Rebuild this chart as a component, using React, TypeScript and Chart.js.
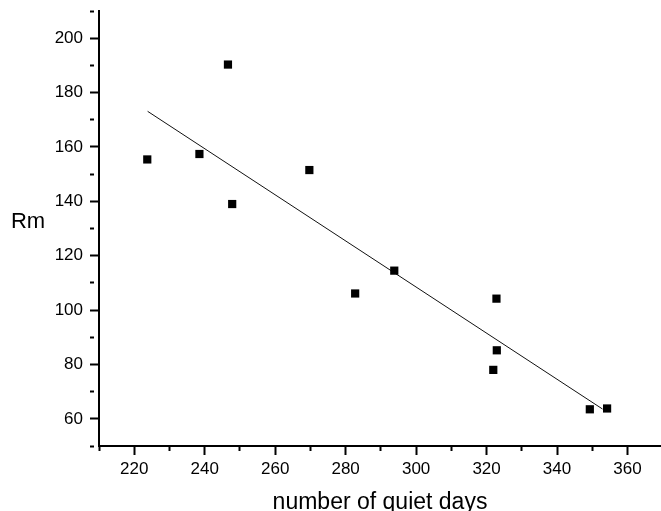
import React, { useEffect, useRef } from "react";
import { Chart, registerables } from "chart.js";

Chart.register(...registerables);

// Data
const quietDays = [223.7, 238.5, 246.6, 247.8, 269.7, 282.7, 293.8, 321.9, 322.8, 322.9, 349.3, 354.2];
const rmValues = [155.4, 157.4, 190.3, 139.0, 151.5, 106.1, 114.5, 78.0, 104.2, 85.2, 63.5, 63.8];
const fitDays = [223.8, 352.9];
const fitRm = [173.1, 63.6];

const xTickValues = [210, 220, 230, 240, 250, 260, 270, 280, 290, 300, 310, 320, 330, 340, 350, 360];
const yTickValues = [50, 60, 70, 80, 90, 100, 110, 120, 130, 140, 150, 160, 170, 180, 190, 200, 210];

const xTitle = "number of quiet days";
const yTitle = "Rm";

const FONT = "'Liberation Sans', Arial, sans-serif";

export default function App() {
  const ref = useRef<HTMLCanvasElement | null>(null);

  useEffect(() => {
    if (!ref.current) return;

    const yTitlePlugin = {
      id: "yTitleHorizontal",
      afterDraw(chart: any) {
        const { ctx, chartArea } = chart;
        ctx.save();
        ctx.font = `22px ${FONT}`;
        ctx.fillStyle = "#000";
        ctx.textAlign = "center";
        ctx.textBaseline = "middle";
        ctx.fillText(yTitle, 28, (chartArea.top + chartArea.bottom) / 2 - 7);
        ctx.restore();
      },
    };

    const minorDash = (ctx: any) => {
      const v = ctx.tick ? ctx.tick.value : 0;
      return Math.round(v) % 20 === 0 ? [] : [4, 30];
    };
    const label = (v: any) => (Math.round(v) % 20 === 0 ? String(Math.round(v)) : "");

    const chart = new Chart(ref.current, {
      type: "scatter",
      data: {
        datasets: [
          {
            label: "Rm",
            data: quietDays.map((x, i) => ({ x, y: rmValues[i] })),
            pointStyle: "rect",
            pointRadius: 5.8,
            pointBorderWidth: 0,
            backgroundColor: "#000",
            borderColor: "#000",
            showLine: false,
          },
          {
            label: "fit",
            data: fitDays.map((x, i) => ({ x, y: fitRm[i] })),
            showLine: true,
            pointRadius: 0,
            borderColor: "#111",
            borderWidth: 1,
            fill: false,
          },
        ],
      },
      options: {
        responsive: false,
        animation: false,
        devicePixelRatio: 1,
        layout: { autoPadding: false, padding: { top: 11, right: 0, bottom: 0, left: 0 } },
        plugins: {
          legend: { display: false },
          tooltip: { enabled: false },
        },
        scales: {
          x: {
            type: "linear",
            min: 210,
            max: 369.5,
            afterBuildTicks: (axis: any) => {
              axis.ticks = xTickValues.map((value) => ({ value }));
            },
            afterFit: (axis: any) => {
              axis.height = 65;
              axis.paddingRight = 0;
              axis.paddingLeft = 0;
            },
            ticks: {
              autoSkip: false,
              maxRotation: 0,
              padding: 4,
              color: "#000",
              font: { family: FONT, size: 17 },
              callback: label,
            },
            grid: {
              drawOnChartArea: false,
              drawTicks: true,
              tickLength: 9,
              tickWidth: 2,
              tickColor: "#000",
              tickBorderDash: minorDash,
            },
            border: { display: true, color: "#000", width: 2 },
            title: {
              display: true,
              text: xTitle,
              color: "#000",
              font: { family: FONT, size: 23, lineHeight: 0.7 },
              padding: { top: 0, bottom: 0 },
            },
          },
          y: {
            type: "linear",
            min: 50,
            max: 210,
            afterBuildTicks: (axis: any) => {
              axis.ticks = yTickValues.map((value) => ({ value }));
            },
            afterFit: (axis: any) => {
              axis.width = 99;
              axis.paddingTop = 0;
              axis.paddingBottom = 0;
            },
            ticks: {
              autoSkip: false,
              padding: 7,
              color: "#000",
              font: { family: FONT, size: 17 },
              callback: label,
            },
            grid: {
              drawOnChartArea: false,
              drawTicks: true,
              tickLength: 9,
              tickWidth: 2,
              tickColor: "#000",
              tickBorderDash: minorDash,
            },
            border: { display: true, color: "#000", width: 2 },
            title: { display: false },
          },
        },
      },
      plugins: [yTitlePlugin],
    } as any);

    return () => chart.destroy();
  }, []);

  return (
    <div style={{ position: "absolute", left: 0, top: 0, width: 661, height: 511, background: "#fff" }}>
      <canvas ref={ref} width={661} height={511} style={{ display: "block" }} />
    </div>
  );
}
